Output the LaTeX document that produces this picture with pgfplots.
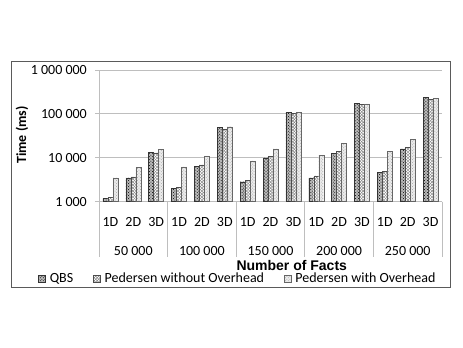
\documentclass[border=0pt]{standalone}
\usepackage{fontspec}
\setmainfont{Carlito}
\newfontfamily\arialfont{Liberation Sans}
\usepackage{pgfplots}
\usepackage{pgfplotstable}
\pgfplotsset{compat=1.18}
\usetikzlibrary{patterns}
\definecolor{GridGray}{RGB}{190,190,190}
\definecolor{FrameGray}{RGB}{90,90,90}

% columns: slot (1D/2D/3D per group), QBS, Pedersen w/o overhead, Pedersen with overhead
\pgfplotstableread{
x qbs pwoo pwo
0 1200 1250 3500
1 3500 3700 6000
2 13500 13000 15500
3 2000 2100 6200
4 6500 6900 11000
5 50000 45000 51000
6 2850 3050 8500
7 10000 10600 16000
8 110000 103000 110000
9 3500 3850 11400
10 12800 14000 21400
11 174000 165000 170000
12 4700 4900 14000
13 16000 17000 26400
14 239000 215000 226000
}\timings

\begin{document}
\fontsize{14bp}{17bp}\selectfont
\begin{tikzpicture}
\useasboundingbox (-99bp,-146.3bp) rectangle (364bp,201.7bp);
\draw[FrameGray, line width=0.8bp] (-87.3bp,-85.3bp) rectangle (351.7bp,140.7bp);
\begin{axis}[
  scale only axis, width=343bp, height=131.7bp,
  ymode=log, log origin=infty,
  ymin=1000, ymax=1000000, xmin=-0.5, xmax=14.5,
  clip=false,
  separate axis lines,
  axis x line*=bottom, axis y line*=left,
  axis line style={GridGray, line width=0.8bp, -},
  ymajorgrids, grid style={GridGray, line width=0.8bp},
  ytick={1000,10000,100000,1000000},
  yticklabels={1 000,10 000,100 000,1 000 000},
  yticklabel style={anchor=east, inner sep=0pt, xshift=-8bp},
  y tick style={GridGray, line width=0.8bp},
  tick align=outside, major tick length=4bp,
  yminorticks=false,
  xtick={0,...,14},
  xticklabels={1D,2D,3D,1D,2D,3D,1D,2D,3D,1D,2D,3D,1D,2D,3D},
  xticklabel style={anchor=base, inner sep=0pt, yshift=-20.8bp},
  x tick style={draw=none},
  xlabel={\arialfont\bfseries Number of Facts},
  xlabel style={at={(axis description cs:0.562,-0.485)}, anchor=center, inner sep=0pt},
  ylabel={\bfseries Time (ms)},
  ylabel style={at={(axis description cs:-0.2245,0.506)}, anchor=center, inner sep=0pt},
  legend columns=3,
  legend style={at={(axis description cs:0.405,-0.585)}, anchor=center, draw=none, fill=none, inner sep=0pt,
    /tikz/every even column/.append style={column sep=18bp},
    /tikz/every odd column/.append style={column sep=2bp}},
  legend image code/.code={\draw[#1] (0bp,-3.5bp) rectangle (7bp,3.5bp);},
]
\addplot[ybar, bar width=5bp, bar shift=-5bp, draw=black!80, fill=gray!55,
  postaction={pattern=crosshatch dots, pattern color=black}]
  table[x=x, y=qbs] {\timings};
\addlegendentry{QBS}
\addplot[ybar, bar width=5bp, bar shift=0bp, draw=black!70, fill=white,
  postaction={pattern=crosshatch, pattern color=gray}]
  table[x=x, y=pwoo] {\timings};
\addlegendentry{Pedersen without Overhead}
\addplot[ybar, bar width=5bp, bar shift=5bp, draw=black!60, fill=gray!15,
  postaction={pattern=crosshatch dots, pattern color=gray!70}]
  table[x=x, y=pwo] {\timings};
\addlegendentry{Pedersen with Overhead}

% group separators below the axis
\draw[GridGray, line width=0.8bp] (axis cs:-0.5,1000) -- ([yshift=-55.3bp]axis cs:-0.5,1000);
\draw[GridGray, line width=0.8bp] (axis cs:2.5,1000) -- ([yshift=-55.3bp]axis cs:2.5,1000);
\draw[GridGray, line width=0.8bp] (axis cs:5.5,1000) -- ([yshift=-55.3bp]axis cs:5.5,1000);
\draw[GridGray, line width=0.8bp] (axis cs:8.5,1000) -- ([yshift=-55.3bp]axis cs:8.5,1000);
\draw[GridGray, line width=0.8bp] (axis cs:11.5,1000) -- ([yshift=-55.3bp]axis cs:11.5,1000);
\draw[GridGray, line width=0.8bp] (axis cs:14.5,1000) -- ([yshift=-55.3bp]axis cs:14.5,1000);
% group labels
\node[anchor=center, inner sep=0pt] at ([yshift=-49.5bp]axis cs:1,1000) {50 000};
\node[anchor=center, inner sep=0pt] at ([yshift=-49.5bp]axis cs:4,1000) {100 000};
\node[anchor=center, inner sep=0pt] at ([yshift=-49.5bp]axis cs:7,1000) {150 000};
\node[anchor=center, inner sep=0pt] at ([yshift=-49.5bp]axis cs:10,1000) {200 000};
\node[anchor=center, inner sep=0pt] at ([yshift=-49.5bp]axis cs:13,1000) {250 000};
\end{axis}
\end{tikzpicture}
\end{document}
